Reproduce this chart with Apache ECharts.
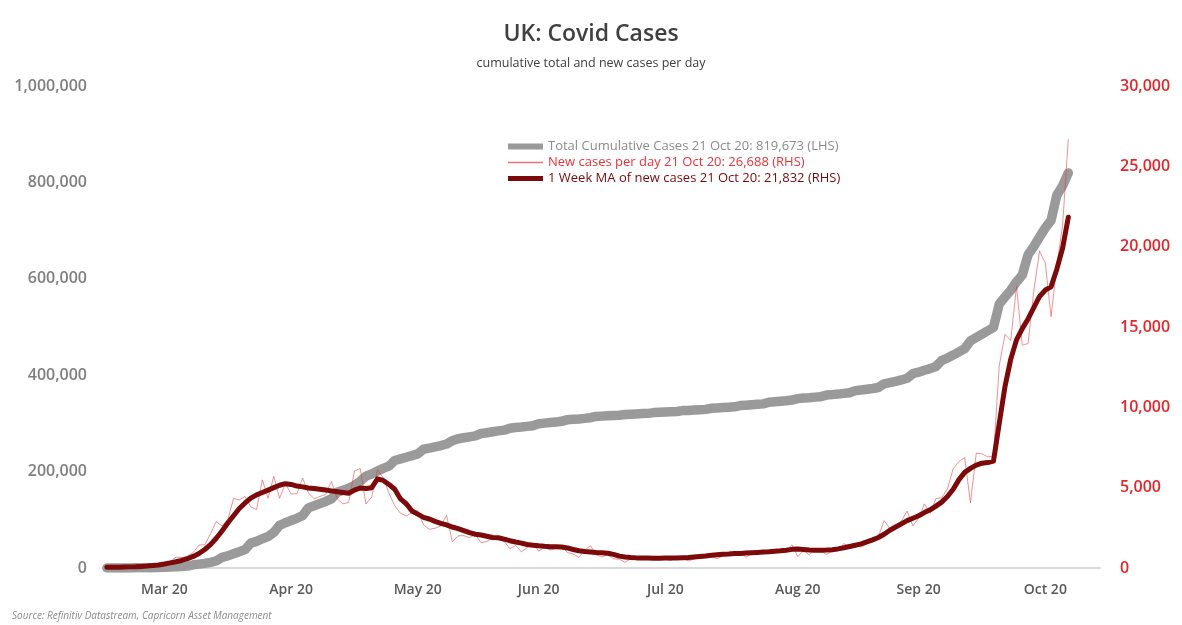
<!DOCTYPE html>
<html>
<head>
<meta charset="utf-8">
<title>UK: Covid Cases</title>
<script src="https://cdn.jsdelivr.net/npm/echarts@6/dist/echarts.min.js"></script>
<style>
  html, body { margin: 0; padding: 0; background: #fff; }
  #chart { width: 1182px; height: 625px; }
</style>
</head>
<body>
<div id="chart"></div>
<script>
// weekday dates (Datastream daily series), axis runs to end Oct
function weekdays(from, to) {
  var out = [];
  var d = new Date(from + 'T00:00:00Z');
  var end = new Date(to + 'T00:00:00Z');
  while (d <= end) {
    var wd = d.getUTCDay();
    if (wd !== 0 && wd !== 6) out.push(d.toISOString().slice(0, 10));
    d.setUTCDate(d.getUTCDate() + 1);
  }
  return out;
}
var dates = weekdays('2020-03-02', '2020-10-28');
var monthNames = ['Jan', 'Feb', 'Mar', 'Apr', 'May', 'Jun', 'Jul', 'Aug', 'Sep', 'Oct', 'Nov', 'Dec'];

var legendNames = [
  'Total Cumulative Cases 21 Oct 20: 819,673 (LHS)',
  'New cases per day 21 Oct 20: 26,688 (RHS)',
  '1 Week MA of new cases 21 Oct 20: 21,832 (RHS)'
];

// total cumulative cases (LHS)
var totalCases = [
  40, 51, 85, 115, 163, 319, 373, 456, 590, 798, 1543, 1950, 2626, 3269, 3983, 6650, 8077, 9529, 11658, 14543, 22141, 25150,
  29474, 33718, 38168, 51608, 55242, 60733, 65077, 73758, 88621, 93873, 98476, 103093, 108692, 124743, 129044, 133495, 138078, 143464, 157149, 161145, 165221, 171253,
  180000, 190500, 195000, 201100, 206700, 211400, 223100, 226500, 229700, 233200, 236700, 246400, 248800, 251300, 253900, 257200, 264200, 268200, 270200, 272100, 274200,
  279000, 280700, 282600, 284400, 286000, 290100, 291500, 292500, 293800, 295300, 299300, 300600, 301700, 302900, 304300, 307800, 308700, 309300, 310400, 311800, 314400, 315100,
  316000, 316600, 317100, 318500, 319100, 319700, 320300, 320800, 322400, 323000, 323500, 324000, 324700, 326600, 327000, 327600, 328400, 329100, 331400, 332000, 332800, 333600, 334500,
  337100, 337800, 338700, 339600, 340500, 343800, 345000, 346000, 347100, 348500, 351400, 352500, 353300, 354500, 355500, 358700, 359700, 360800, 362300, 363600, 368000,
  369300, 370800, 372500, 374500, 382200, 384700, 387300, 390200, 393800, 403200, 406300, 410300, 413700, 418000, 430700, 435600, 441800, 448400, 455300, 471100, 478200, 485300,
  492200, 499200, 547600, 562100, 576300, 593800, 607700, 649700, 666900, 686700, 705600, 721300, 773400, 793000, 819673
];

// new cases per day (RHS)
var newCases = [
  13, 11, 34, 30, 48, 48, 61, 83, 134, 208, 152, 407, 676, 643, 714, 967, 1427, 1452, 2129, 2885, 2619, 3009,
  4324, 4244, 4450, 3802, 3634, 5491, 4344, 5706, 4342, 5252, 4605, 4617, 5599, 4676, 4301, 4451, 4583, 5386, 4310, 3996, 4076, 6032,
  6201, 3985, 4406, 6111, 5614, 4649, 3877, 3403, 3242, 3446, 3560, 2684, 2412, 2472, 2615, 3287, 1625, 2004, 2013, 1887, 2095,
  1570, 1653, 1871, 1805, 1650, 1205, 1387, 1003, 1266, 1541, 1056, 1279, 1115, 1218, 1346, 958, 874, 653, 1118, 1380, 815, 689,
  829, 576, 544, 352, 581, 630, 612, 512, 530, 598, 538, 463, 687, 580, 445, 560, 769, 768, 685, 581, 763, 846, 880,
  938, 670, 892, 950, 871, 1062, 1148, 1009, 1089, 1441, 713, 1089, 812, 1182, 1033, 853, 1041, 1048, 1522, 1276, 1406,
  1295, 1508, 1735, 1940, 2948, 2460, 2659, 2919, 3539, 2621, 3105, 3991, 3395, 4322, 4368, 4926, 6178, 6634, 6874, 4044, 7143, 7108,
  6914, 6968, 12594, 14542, 14162, 17540, 13864, 13972, 17234, 19724, 18980, 15650, 18804, 21331, 26688
];

// 1 week moving average of new cases (RHS)
var weekAvg = [
  40, 45, 50, 60, 70, 80, 100, 120, 150, 190, 250, 320, 390, 470, 580, 720, 900, 1150, 1450, 1850, 2300, 2800,
  3250, 3700, 4050, 4350, 4550, 4700, 4850, 5000, 5150, 5250, 5200, 5100, 5050, 4980, 4950, 4900, 4850, 4800, 4750, 4700, 4650, 4850,
  4980, 4950, 5000, 5550, 5450, 5200, 4900, 4300, 4000, 3550, 3350, 3150, 3050, 2900, 2780, 2680, 2550, 2450, 2330, 2200, 2100,
  2050, 1980, 1900, 1880, 1800, 1700, 1620, 1550, 1460, 1420, 1380, 1350, 1330, 1320, 1310, 1250, 1150, 1070, 1030, 1000, 970, 950,
  920, 850, 740, 680, 650, 630, 620, 615, 610, 610, 615, 620, 625, 640, 660, 690, 720, 750, 790, 820, 850, 870, 900,
  910, 930, 950, 970, 990, 1010, 1040, 1070, 1110, 1160, 1180, 1150, 1120, 1110, 1110, 1120, 1140, 1190, 1260, 1340, 1420,
  1500, 1620, 1750, 1900, 2100, 2350, 2550, 2750, 2950, 3100, 3250, 3450, 3620, 3850, 4100, 4450, 4900, 5500, 5950, 6200, 6400, 6520,
  6560, 6650, 9000, 11300, 13000, 14200, 14900, 15500, 16200, 16900, 17300, 17500, 18600, 19900, 21832
];

// tick at first weekday of each month, label about mid-month
function dayInMonth(index) {
  var k = 0;
  while (index - k - 1 >= 0 && dates[index - k - 1].slice(5, 7) === dates[index].slice(5, 7)) k++;
  return k;
}

var chart = echarts.init(document.getElementById('chart'), null, { renderer: 'canvas' });
var font = "'Open Sans', 'Noto Sans', sans-serif";

var option = {
  animation: false,
  backgroundColor: '#ffffff',
  title: {
    text: 'UK: Covid Cases',
    subtext: 'cumulative total and new cases per day',
    left: 'center',
    top: 18,
    itemGap: 11,
    textStyle: { fontFamily: font, fontSize: 23, fontWeight: 600, color: '#404040' },
    subtextStyle: { fontFamily: font, fontSize: 12.5, color: '#404040' }
  },
  legend: {
    orient: 'vertical',
    left: 500,
    top: 135,
    itemWidth: 35,
    itemHeight: 6,
    itemGap: 3,
    textStyle: { fontFamily: font, fontSize: 13 },
    data: [
      { name: legendNames[0], textStyle: { color: '#8c8c8c' }, itemStyle: { opacity: 0 }, lineStyle: { width: 6, cap: 'butt' } },
      { name: legendNames[1], textStyle: { color: '#e8343a' }, itemStyle: { opacity: 0 }, lineStyle: { width: 1.5, cap: 'butt', opacity: 0.7 } },
      { name: legendNames[2], textStyle: { color: '#7a0a0a' }, itemStyle: { opacity: 0 }, lineStyle: { width: 5, cap: 'butt' } }
    ]
  },
  grid: { left: 104, right: 82, top: 86, bottom: 57 },
  xAxis: {
    type: 'category',
    data: dates,
    boundaryGap: true,
    axisLine: { lineStyle: { color: '#d9d9d9', width: 2 } },
    axisTick: {
      inside: true,
      length: 9,
      alignWithLabel: true,
      lineStyle: { color: '#d9d9d9' },
      interval: function (index) { return dayInMonth(index) === 0; }
    },
    axisLabel: {
      interval: function (index) { return dayInMonth(index) === 10; },
      formatter: function (v) { return monthNames[+v.slice(5, 7) - 1] + ' 20'; },
      margin: 15,
      fontFamily: font,
      fontSize: 14,
      fontWeight: 600,
      color: '#595959'
    },
    splitLine: { show: false }
  },
  yAxis: [
    {
      type: 'value',
      min: 0,
      max: 1000000,
      interval: 200000,
      axisLine: { show: false },
      axisTick: { show: false },
      splitLine: { show: false },
      axisLabel: {
        margin: 17,
        fontFamily: font,
        fontSize: 16,
        fontWeight: 600,
        color: '#7f7f7f',
        formatter: function (v) { return v.toLocaleString('en-US'); }
      }
    },
    {
      type: 'value',
      min: 0,
      max: 30000,
      interval: 5000,
      position: 'right',
      axisLine: { show: false },
      axisTick: { show: false },
      splitLine: { show: false },
      axisLabel: {
        margin: 20,
        fontFamily: font,
        fontSize: 16,
        fontWeight: 600,
        color: '#e3262b',
        formatter: function (v) { return v.toLocaleString('en-US'); }
      }
    }
  ],
  series: [
    {
      name: legendNames[0],
      type: 'line',
      yAxisIndex: 0,
      data: totalCases,
      symbol: 'none',
      color: '#9a9a9a',
      lineStyle: { color: '#9a9a9a', width: 9.5, join: 'round', cap: 'round' }
    },
    {
      name: legendNames[1],
      type: 'line',
      yAxisIndex: 1,
      data: newCases,
      symbol: 'none',
      color: '#ec6a6e',
      lineStyle: { color: '#e8383d', width: 1, opacity: 0.55 }
    },
    {
      name: legendNames[2],
      type: 'line',
      yAxisIndex: 1,
      data: weekAvg,
      symbol: 'none',
      color: '#7d0a0a',
      lineStyle: { color: '#7d0a0a', width: 5, join: 'round', cap: 'round' }
    }
  ],
  graphic: [
    {
      type: 'text',
      left: 12,
      top: 611,
      style: {
        text: 'Source: Refinitiv Datastream, Capricorn Asset Management',
        font: 'italic 10px ' + font,
        fill: '#8c8c8c'
      }
    }
  ]
};

chart.setOption(option);
</script>
</body>
</html>
